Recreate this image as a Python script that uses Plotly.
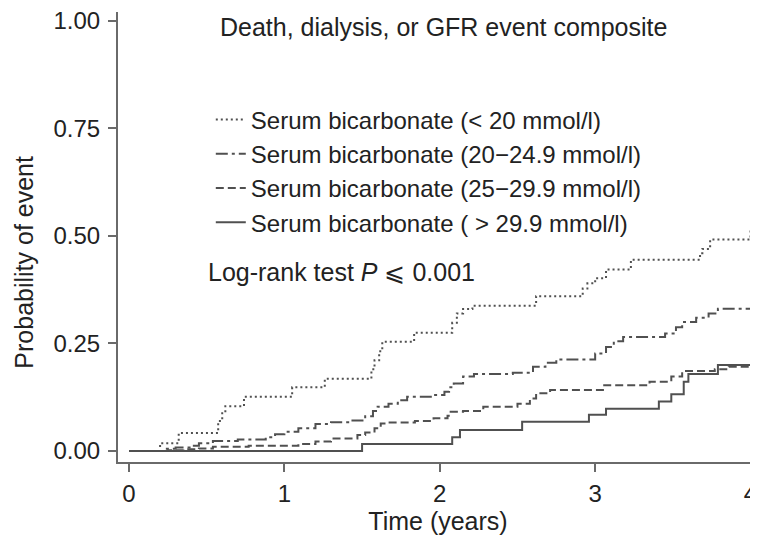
import plotly.graph_objects as go

# ---- data ----
series_names = [
    "Serum bicarbonate (< 20 mmol/l)",
    "Serum bicarbonate (20\u221224.9 mmol/l)",
    "Serum bicarbonate (25\u221229.9 mmol/l)",
    "Serum bicarbonate ( > 29.9 mmol/l)",
]

t_lt20 = [0, 0.20, 0.32, 0.574, 0.60, 0.62, 0.74, 1.05, 1.26, 1.56, 1.58, 1.61, 1.63,
          1.835, 2.08, 2.11, 2.15, 2.21, 2.62, 2.92, 2.95, 3.0, 3.07, 3.23, 3.675, 3.69,
          3.74, 4.0]
p_lt20 = [0, 0.018, 0.042, 0.07, 0.088, 0.104, 0.126, 0.148, 0.168, 0.19, 0.211, 0.232,
          0.254, 0.275, 0.298, 0.32, 0.33, 0.338, 0.36, 0.378, 0.39, 0.402, 0.422, 0.445,
          0.46, 0.47, 0.492, 0.513]

t_20_25 = [0, 0.22, 0.30, 0.39, 0.45, 0.54, 0.70, 0.88, 0.94, 1.0, 1.09, 1.2, 1.3, 1.43,
           1.52, 1.57, 1.6, 1.67, 1.73, 1.79, 1.96, 2.03, 2.06, 2.09, 2.15, 2.22, 2.47,
           2.6, 2.68, 2.75, 3.0, 3.07, 3.12, 3.18, 3.45, 3.52, 3.56, 3.65, 3.73, 3.79, 4.0]
p_20_25 = [0, 0.005, 0.008, 0.012, 0.018, 0.023, 0.027, 0.032, 0.039, 0.045, 0.053,
           0.063, 0.067, 0.071, 0.081, 0.093, 0.103, 0.11, 0.118, 0.126, 0.13, 0.138,
           0.148, 0.157, 0.173, 0.179, 0.182, 0.196, 0.205, 0.213, 0.227, 0.242, 0.255,
           0.265, 0.273, 0.288, 0.3, 0.31, 0.32, 0.331, 0.333]

t_25_30 = [0, 0.25, 0.35, 0.45, 0.54, 0.77, 1.09, 1.2, 1.3, 1.47, 1.52, 1.58, 1.62, 1.67,
           1.84, 1.96, 2.05, 2.07, 2.15, 2.28, 2.5, 2.58, 2.62, 2.71, 3.05, 3.35, 3.49,
           3.56, 3.77, 3.86, 4.0]
p_25_30 = [0, 0.002, 0.004, 0.006, 0.01, 0.012, 0.016, 0.022, 0.029, 0.037, 0.043,
           0.053, 0.064, 0.066, 0.07, 0.076, 0.082, 0.091, 0.093, 0.103, 0.11, 0.122,
           0.134, 0.142, 0.153, 0.161, 0.173, 0.186, 0.19, 0.196, 0.198]

t_gt30 = [0, 1.5, 2.08, 2.13, 2.53, 2.96, 3.07, 3.41, 3.49, 3.57, 3.6, 3.79, 4.0]
p_gt30 = [0, 0.016, 0.032, 0.049, 0.068, 0.084, 0.098, 0.115, 0.132, 0.161, 0.179, 0.2, 0.2]

x_ticks = [0, 1, 2, 3, 4]
y_ticks = [0.0, 0.25, 0.5, 0.75, 1.0]
y_tick_labels = ["0.00", "0.25", "0.50", "0.75", "1.00"]

# ---- styles ----
FONT = "Liberation Sans, Arial, Helvetica, sans-serif"
TEXT_COLOR = "#222222"
LINE_COLOR = "#505050"
styles = [
    dict(dash="2px,3px", width=2),
    dict(dash="12px,4px,3px,4px", width=2),
    dict(dash="8px,4px", width=2),
    dict(dash="solid", width=2),
]

fig = go.Figure()
for name, tt, pp, st in zip(series_names,
                            [t_lt20, t_20_25, t_25_30, t_gt30],
                            [p_lt20, p_20_25, p_25_30, p_gt30],
                            styles):
    fig.add_trace(go.Scatter(
        x=tt, y=pp, mode="lines", name=name, line_shape="hv",
        line=dict(color=LINE_COLOR, width=st["width"], dash=st["dash"]),
    ))

axis_common = dict(
    showgrid=False, zeroline=False, showline=True, linecolor="#6a6a6a", linewidth=2,
    ticks="outside", ticklen=8, tickwidth=2, tickcolor="#6a6a6a",
    tickfont=dict(family=FONT, size=24, color=TEXT_COLOR),
    mirror=False, automargin=False, ticklabeloverflow="allow",
)

# the page body has an 8px margin, so the figure is sized to the visible window
fig.update_layout(
    width=750, height=535,
    margin=dict(l=110, r=0, t=4, b=81, autoexpand=False),
    paper_bgcolor="white", plot_bgcolor="white",
    font=dict(family=FONT, size=24, color=TEXT_COLOR),
    xaxis=dict(
        range=[-0.0708, 4.048], tickvals=x_ticks, ticklabelstandoff=1,
        title=dict(text="Time (years)", font=dict(family=FONT, size=25, color=TEXT_COLOR), standoff=6),
        **axis_common,
    ),
    yaxis=dict(
        range=[-0.0256, 1.0209], tickvals=y_ticks, ticktext=y_tick_labels,
        ticklabelstandoff=3,
        **axis_common,
    ),
    showlegend=True,
    legend=dict(
        x=0.145, xanchor="left", y=0.81, yanchor="top",
        bgcolor="rgba(0,0,0,0)", borderwidth=0,
        font=dict(family=FONT, size=24, color=TEXT_COLOR),
        tracegroupgap=0,
    ),
    annotations=[
        dict(text="Probability of event", xref="paper", yref="paper",
             x=-0.147, y=0.445, xanchor="center", yanchor="middle", textangle=-90,
             showarrow=False, font=dict(family=FONT, size=25, color=TEXT_COLOR)),
        dict(text="Death, dialysis, or GFR event composite", xref="paper", yref="paper",
             x=0.509, y=0.967, xanchor="center", yanchor="middle", showarrow=False,
             font=dict(family=FONT, size=25, color=TEXT_COLOR)),
        dict(text="Log-rank test <i>P</i> \u2a7d 0.001", xref="paper", yref="paper",
             x=0.138, y=0.423, xanchor="left", yanchor="middle", showarrow=False,
             font=dict(family=FONT, size=25, color=TEXT_COLOR)),
    ],
)

fig.write_html("out.html")
